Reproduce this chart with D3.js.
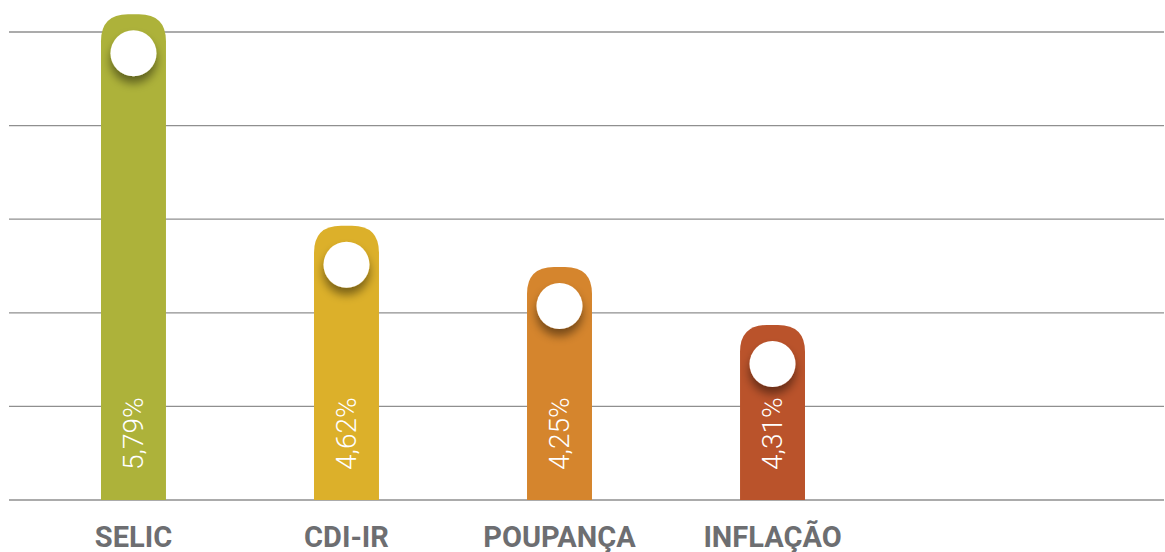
<!DOCTYPE html>
<html>
<head>
<meta charset="utf-8">
<script src="https://cdn.jsdelivr.net/npm/d3@7"></script>
<style>
  body { margin: 0; background: #fff; }
  svg { display: block; font-family: Roboto, "Open Sans", sans-serif; }
</style>
</head>
<body>
<div id="chart"></div>
<script>
// dados do grafico
var categorias = ["SELIC", "CDI-IR", "POUPANÇA", "INFLAÇÃO"];
var rotulos = [5.79, 4.62, 4.25, 4.31];          // valores escritos nas barras
var alturas = [5.19, 2.93, 2.49, 1.87];          // altura das barras (unidades da grade)
var cores = ["#adb23a", "#dcb02a", "#d5852d", "#ba532b"];
var gradeTicks = [0, 1, 2, 3, 4, 5];

var width = 1165, height = 552;

var svg = d3.select("#chart")
  .append("svg")
    .attr("width", width)
    .attr("height", height);

// sombra das bolinhas
var defs = svg.append("defs");
var f = defs.append("filter").attr("id", "sombra")
  .attr("x", "-50%").attr("y", "-50%").attr("width", "200%").attr("height", "220%");
f.append("feDropShadow")
  .attr("dx", 0).attr("dy", 7)
  .attr("stdDeviation", 5)
  .attr("flood-color", "#000")
  .attr("flood-opacity", 0.45);

var x = d3.scaleBand()
  .domain(categorias)
  .range([101, 805])
  .paddingInner(0.695)
  .paddingOuter(0);

var y = d3.scaleLinear()
  .domain([0, 5])
  .range([500, 32]);

// linhas de grade
svg.append("g")
  .selectAll("line")
  .data(gradeTicks)
  .enter()
  .append("line")
    .attr("x1", 9)
    .attr("x2", 1164)
    .attr("y1", function(d) { return y(d); })
    .attr("y2", function(d) { return y(d); })
    .attr("stroke", "#8f8f8f")
    .attr("stroke-width", 1.3);

var dados = categorias.map(function(c, i) {
  return { cat: c, valor: rotulos[i], h: alturas[i], cor: cores[i] };
});

// barra com cantos de cima arredondados
function barra(d) {
  var x0 = x(d.cat), w = x.bandwidth(), y0 = y(d.h), y1 = y(0), r = 27;
  return "M" + x0 + "," + y1 +
    "V" + (y0 + r) +
    "Q" + x0 + "," + y0 + " " + (x0 + r) + "," + y0 +
    "H" + (x0 + w - r) +
    "Q" + (x0 + w) + "," + y0 + " " + (x0 + w) + "," + (y0 + r) +
    "V" + y1 + "Z";
}

var g = svg.append("g")
  .selectAll("g")
  .data(dados)
  .enter()
  .append("g");

g.append("path")
  .attr("d", barra)
  .attr("fill", function(d) { return d.cor; });

g.append("circle")
  .attr("cx", function(d) { return x(d.cat) + x.bandwidth() / 2; })
  .attr("cy", function(d) { return y(d.h) + 39; })
  .attr("r", 23)
  .attr("fill", "#fff")
  .attr("filter", "url(#sombra)");

g.append("text")
  .attr("transform", function(d) {
    return "translate(" + (x(d.cat) + x.bandwidth() / 2) + ",470) rotate(-90)";
  })
  .attr("dy", "0.35em")
  .attr("fill", "#fff")
  .style("font-size", "28px")
  .style("font-weight", 300)
  .text(function(d) { return d3.format(".2f")(d.valor).replace(".", ",") + "%"; });

// rotulos das categorias
svg.append("g")
  .selectAll("text")
  .data(dados)
  .enter()
  .append("text")
    .attr("x", function(d) { return x(d.cat) + x.bandwidth() / 2; })
    .attr("y", 547)
    .attr("text-anchor", "middle")
    .attr("fill", "#6d6e71")
    .style("font-size", "29px")
    .style("font-weight", 700)
    .text(function(d) { return d.cat; });
</script>
</body>
</html>
